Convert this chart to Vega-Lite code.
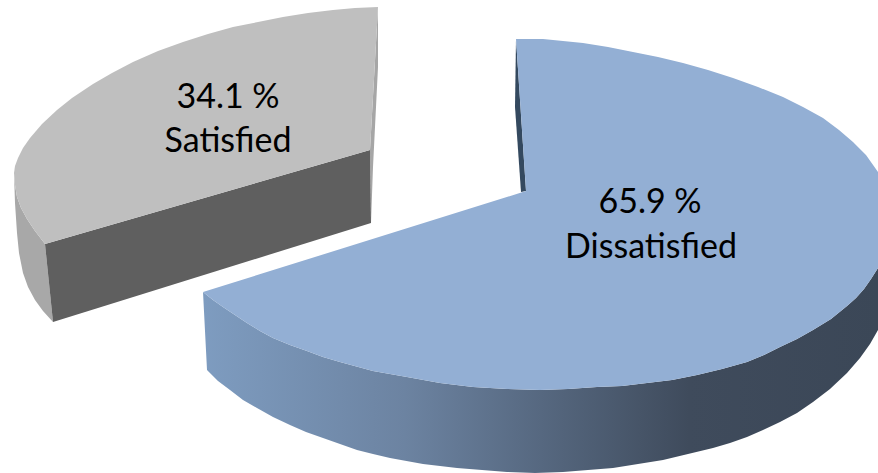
{
  "$schema": "https://vega.github.io/schema/vega-lite/v6.json",
  "width": 878,
  "height": 473,
  "autosize": {"type": "fit", "contains": "padding"},
  "padding": 0,
  "background": "#ffffff",
  "view": {"stroke": null},
  "datasets": {
    "outline": [
      {"part":"satisfied_outer","seq":1,"x":14,"y":173},{"part":"satisfied_outer","seq":2,"x":15,"y":185},{"part":"satisfied_outer","seq":3,"x":17,"y":197},{"part":"satisfied_outer","seq":4,"x":21,"y":208},{"part":"satisfied_outer","seq":5,"x":27,"y":219},{"part":"satisfied_outer","seq":6,"x":35,"y":231},{"part":"satisfied_outer","seq":7,"x":45,"y":244},{"part":"satisfied_outer","seq":8,"x":53,"y":322},{"part":"satisfied_outer","seq":9,"x":43,"y":311},{"part":"satisfied_outer","seq":10,"x":35,"y":300},{"part":"satisfied_outer","seq":11,"x":28,"y":287},{"part":"satisfied_outer","seq":12,"x":23,"y":273},{"part":"satisfied_outer","seq":13,"x":19,"y":253},{"part":"satisfied_outer","seq":14,"x":17,"y":233},{"part":"satisfied_outer","seq":15,"x":15,"y":203},
      {"part":"satisfied_inner","seq":1,"x":378,"y":7},{"part":"satisfied_inner","seq":2,"x":370,"y":150},{"part":"satisfied_inner","seq":3,"x":371,"y":223},{"part":"satisfied_inner","seq":4,"x":373,"y":167},{"part":"satisfied_inner","seq":5,"x":378,"y":67},
      {"part":"satisfied_cut","seq":1,"x":45,"y":244},{"part":"satisfied_cut","seq":2,"x":370,"y":150},{"part":"satisfied_cut","seq":3,"x":371,"y":223},{"part":"satisfied_cut","seq":4,"x":53,"y":322},
      {"part":"satisfied_top","seq":1,"x":378,"y":7},{"part":"satisfied_top","seq":2,"x":355,"y":8},{"part":"satisfied_top","seq":3,"x":333,"y":10},{"part":"satisfied_top","seq":4,"x":308,"y":13},{"part":"satisfied_top","seq":5,"x":283,"y":17},{"part":"satisfied_top","seq":6,"x":258,"y":22},{"part":"satisfied_top","seq":7,"x":233,"y":27},{"part":"satisfied_top","seq":8,"x":208,"y":34},{"part":"satisfied_top","seq":9,"x":183,"y":42},{"part":"satisfied_top","seq":10,"x":158,"y":51},{"part":"satisfied_top","seq":11,"x":133,"y":62},{"part":"satisfied_top","seq":12,"x":112,"y":73},{"part":"satisfied_top","seq":13,"x":93,"y":84},{"part":"satisfied_top","seq":14,"x":72,"y":98},{"part":"satisfied_top","seq":15,"x":57,"y":110},{"part":"satisfied_top","seq":16,"x":42,"y":124},{"part":"satisfied_top","seq":17,"x":30,"y":138},{"part":"satisfied_top","seq":18,"x":23,"y":148},{"part":"satisfied_top","seq":19,"x":18,"y":158},{"part":"satisfied_top","seq":20,"x":15,"y":166},{"part":"satisfied_top","seq":21,"x":14,"y":173},{"part":"satisfied_top","seq":22,"x":15,"y":185},{"part":"satisfied_top","seq":23,"x":17,"y":197},{"part":"satisfied_top","seq":24,"x":21,"y":208},{"part":"satisfied_top","seq":25,"x":27,"y":219},{"part":"satisfied_top","seq":26,"x":35,"y":231},{"part":"satisfied_top","seq":27,"x":45,"y":244},{"part":"satisfied_top","seq":28,"x":370,"y":150},
      {"part":"dissatisfied_inner","seq":1,"x":516,"y":39},{"part":"dissatisfied_inner","seq":2,"x":515,"y":107},{"part":"dissatisfied_inner","seq":3,"x":521,"y":192},{"part":"dissatisfied_inner","seq":4,"x":526,"y":191},
      {"part":"dissatisfied_wall","seq":1,"x":203,"y":292},{"part":"dissatisfied_wall","seq":2,"x":213,"y":300},{"part":"dissatisfied_wall","seq":3,"x":223,"y":307},{"part":"dissatisfied_wall","seq":4,"x":235,"y":315},{"part":"dissatisfied_wall","seq":5,"x":247,"y":323},{"part":"dissatisfied_wall","seq":6,"x":260,"y":331},{"part":"dissatisfied_wall","seq":7,"x":273,"y":338},{"part":"dissatisfied_wall","seq":8,"x":290,"y":345},{"part":"dissatisfied_wall","seq":9,"x":307,"y":351},{"part":"dissatisfied_wall","seq":10,"x":323,"y":357},{"part":"dissatisfied_wall","seq":11,"x":340,"y":362},{"part":"dissatisfied_wall","seq":12,"x":373,"y":371},{"part":"dissatisfied_wall","seq":13,"x":407,"y":377},{"part":"dissatisfied_wall","seq":14,"x":440,"y":383},{"part":"dissatisfied_wall","seq":15,"x":473,"y":387},{"part":"dissatisfied_wall","seq":16,"x":507,"y":389},{"part":"dissatisfied_wall","seq":17,"x":540,"y":390},{"part":"dissatisfied_wall","seq":18,"x":568,"y":389},{"part":"dissatisfied_wall","seq":19,"x":597,"y":387},{"part":"dissatisfied_wall","seq":20,"x":622,"y":386},{"part":"dissatisfied_wall","seq":21,"x":647,"y":383},{"part":"dissatisfied_wall","seq":22,"x":672,"y":380},{"part":"dissatisfied_wall","seq":23,"x":697,"y":375},{"part":"dissatisfied_wall","seq":24,"x":722,"y":369},{"part":"dissatisfied_wall","seq":25,"x":747,"y":362},{"part":"dissatisfied_wall","seq":26,"x":764,"y":355},{"part":"dissatisfied_wall","seq":27,"x":780,"y":347},{"part":"dissatisfied_wall","seq":28,"x":797,"y":339},{"part":"dissatisfied_wall","seq":29,"x":813,"y":330},{"part":"dissatisfied_wall","seq":30,"x":831,"y":319},{"part":"dissatisfied_wall","seq":31,"x":847,"y":306},{"part":"dissatisfied_wall","seq":32,"x":856,"y":298},{"part":"dissatisfied_wall","seq":33,"x":864,"y":289},{"part":"dissatisfied_wall","seq":34,"x":871,"y":279},{"part":"dissatisfied_wall","seq":35,"x":878,"y":268},{"part":"dissatisfied_wall","seq":36,"x":878,"y":330},{"part":"dissatisfied_wall","seq":37,"x":870,"y":344},{"part":"dissatisfied_wall","seq":38,"x":860,"y":358},{"part":"dissatisfied_wall","seq":39,"x":847,"y":373},{"part":"dissatisfied_wall","seq":40,"x":830,"y":389},{"part":"dissatisfied_wall","seq":41,"x":813,"y":402},{"part":"dissatisfied_wall","seq":42,"x":797,"y":413},{"part":"dissatisfied_wall","seq":43,"x":780,"y":422},{"part":"dissatisfied_wall","seq":44,"x":763,"y":430},{"part":"dissatisfied_wall","seq":45,"x":747,"y":437},{"part":"dissatisfied_wall","seq":46,"x":730,"y":443},{"part":"dissatisfied_wall","seq":47,"x":713,"y":448},{"part":"dissatisfied_wall","seq":48,"x":688,"y":454},{"part":"dissatisfied_wall","seq":49,"x":663,"y":460},{"part":"dissatisfied_wall","seq":50,"x":638,"y":464},{"part":"dissatisfied_wall","seq":51,"x":613,"y":468},{"part":"dissatisfied_wall","seq":52,"x":588,"y":470},{"part":"dissatisfied_wall","seq":53,"x":563,"y":472},{"part":"dissatisfied_wall","seq":54,"x":535,"y":473},{"part":"dissatisfied_wall","seq":55,"x":507,"y":472},{"part":"dissatisfied_wall","seq":56,"x":482,"y":470},{"part":"dissatisfied_wall","seq":57,"x":457,"y":468},{"part":"dissatisfied_wall","seq":58,"x":423,"y":464},{"part":"dissatisfied_wall","seq":59,"x":390,"y":458},{"part":"dissatisfied_wall","seq":60,"x":373,"y":454},{"part":"dissatisfied_wall","seq":61,"x":357,"y":450},{"part":"dissatisfied_wall","seq":62,"x":340,"y":444},{"part":"dissatisfied_wall","seq":63,"x":323,"y":438},{"part":"dissatisfied_wall","seq":64,"x":306,"y":432},{"part":"dissatisfied_wall","seq":65,"x":290,"y":425},{"part":"dissatisfied_wall","seq":66,"x":273,"y":417},{"part":"dissatisfied_wall","seq":67,"x":257,"y":408},{"part":"dissatisfied_wall","seq":68,"x":243,"y":400},{"part":"dissatisfied_wall","seq":69,"x":230,"y":390},{"part":"dissatisfied_wall","seq":70,"x":218,"y":381},{"part":"dissatisfied_wall","seq":71,"x":207,"y":370},
      {"part":"dissatisfied_top","seq":1,"x":516,"y":39},{"part":"dissatisfied_top","seq":2,"x":543,"y":39},{"part":"dissatisfied_top","seq":3,"x":563,"y":41},{"part":"dissatisfied_top","seq":4,"x":583,"y":43},{"part":"dissatisfied_top","seq":5,"x":608,"y":47},{"part":"dissatisfied_top","seq":6,"x":633,"y":52},{"part":"dissatisfied_top","seq":7,"x":658,"y":57},{"part":"dissatisfied_top","seq":8,"x":683,"y":63},{"part":"dissatisfied_top","seq":9,"x":708,"y":70},{"part":"dissatisfied_top","seq":10,"x":733,"y":78},{"part":"dissatisfied_top","seq":11,"x":758,"y":87},{"part":"dissatisfied_top","seq":12,"x":783,"y":97},{"part":"dissatisfied_top","seq":13,"x":803,"y":107},{"part":"dissatisfied_top","seq":14,"x":823,"y":118},{"part":"dissatisfied_top","seq":15,"x":839,"y":130},{"part":"dissatisfied_top","seq":16,"x":853,"y":142},{"part":"dissatisfied_top","seq":17,"x":866,"y":155},{"part":"dissatisfied_top","seq":18,"x":878,"y":172},{"part":"dissatisfied_top","seq":19,"x":878,"y":268},{"part":"dissatisfied_top","seq":20,"x":871,"y":279},{"part":"dissatisfied_top","seq":21,"x":864,"y":289},{"part":"dissatisfied_top","seq":22,"x":856,"y":298},{"part":"dissatisfied_top","seq":23,"x":847,"y":306},{"part":"dissatisfied_top","seq":24,"x":831,"y":319},{"part":"dissatisfied_top","seq":25,"x":813,"y":330},{"part":"dissatisfied_top","seq":26,"x":797,"y":339},{"part":"dissatisfied_top","seq":27,"x":780,"y":347},{"part":"dissatisfied_top","seq":28,"x":764,"y":355},{"part":"dissatisfied_top","seq":29,"x":747,"y":362},{"part":"dissatisfied_top","seq":30,"x":722,"y":369},{"part":"dissatisfied_top","seq":31,"x":697,"y":375},{"part":"dissatisfied_top","seq":32,"x":672,"y":380},{"part":"dissatisfied_top","seq":33,"x":647,"y":383},{"part":"dissatisfied_top","seq":34,"x":622,"y":386},{"part":"dissatisfied_top","seq":35,"x":597,"y":387},{"part":"dissatisfied_top","seq":36,"x":568,"y":389},{"part":"dissatisfied_top","seq":37,"x":540,"y":390},{"part":"dissatisfied_top","seq":38,"x":507,"y":389},{"part":"dissatisfied_top","seq":39,"x":473,"y":387},{"part":"dissatisfied_top","seq":40,"x":440,"y":383},{"part":"dissatisfied_top","seq":41,"x":407,"y":377},{"part":"dissatisfied_top","seq":42,"x":373,"y":371},{"part":"dissatisfied_top","seq":43,"x":340,"y":362},{"part":"dissatisfied_top","seq":44,"x":323,"y":357},{"part":"dissatisfied_top","seq":45,"x":307,"y":351},{"part":"dissatisfied_top","seq":46,"x":290,"y":345},{"part":"dissatisfied_top","seq":47,"x":273,"y":338},{"part":"dissatisfied_top","seq":48,"x":260,"y":331},{"part":"dissatisfied_top","seq":49,"x":247,"y":323},{"part":"dissatisfied_top","seq":50,"x":235,"y":315},{"part":"dissatisfied_top","seq":51,"x":223,"y":307},{"part":"dissatisfied_top","seq":52,"x":213,"y":300},{"part":"dissatisfied_top","seq":53,"x":203,"y":292},{"part":"dissatisfied_top","seq":54,"x":526,"y":191}
    ],
    "labels": [
      {"label":"34.1 %","x":228,"y":98},
      {"label":"Satisfied","x":228,"y":142},
      {"label":"65.9 %","x":650,"y":203},
      {"label":"Dissatisfied","x":651,"y":248}
    ]
  },
  "encoding": {
    "x": {"field":"x","type":"quantitative","scale":{"domain":[0,878],"nice":false,"zero":false},"axis":null},
    "y": {"field":"y","type":"quantitative","scale":{"domain":[473,0],"nice":false,"zero":false},"axis":null}
  },
  "layer": [
    {"data":{"name":"outline"},"transform":[{"filter":"datum.part === 'satisfied_outer'"}],"mark":{"type":"line","filled":true,"fill":"#a8a8a8","stroke":null},"encoding":{"order":{"field":"seq"}}},
    {"data":{"name":"outline"},"transform":[{"filter":"datum.part === 'satisfied_inner'"}],"mark":{"type":"line","filled":true,"fill":"#a6a6a6","stroke":null},"encoding":{"order":{"field":"seq"}}},
    {"data":{"name":"outline"},"transform":[{"filter":"datum.part === 'satisfied_cut'"}],"mark":{"type":"line","filled":true,"fill":"#5f5f5f","stroke":null},"encoding":{"order":{"field":"seq"}}},
    {"data":{"name":"outline"},"transform":[{"filter":"datum.part === 'satisfied_top'"}],"mark":{"type":"line","filled":true,"fill":"#bfbfbf","stroke":null},"encoding":{"order":{"field":"seq"}}},
    {"data":{"name":"outline"},"transform":[{"filter":"datum.part === 'dissatisfied_inner'"}],"mark":{"type":"line","filled":true,"fill":"#34495f","stroke":null},"encoding":{"order":{"field":"seq"}}},
    {"data":{"name":"outline"},"transform":[{"filter":"datum.part === 'dissatisfied_wall'"}],"mark":{"type":"line","filled":true,"stroke":null,"fill":{"gradient":"linear","x1":0,"y1":0,"x2":1,"y2":0,"stops":[{"offset":0,"color":"#7e9cc0"},{"offset":0.3,"color":"#6c83a1"},{"offset":0.5,"color":"#566880"},{"offset":0.72,"color":"#3f4b5c"},{"offset":1,"color":"#3b4757"}]}},"encoding":{"order":{"field":"seq"}}},
    {"data":{"name":"outline"},"transform":[{"filter":"datum.part === 'dissatisfied_top'"}],"mark":{"type":"line","filled":true,"fill":"#93afd4","stroke":null},"encoding":{"order":{"field":"seq"}}},
    {"data":{"name":"labels"},"mark":{"type":"text","font":"Lato","fontSize":34,"color":"#000000","align":"center","baseline":"middle"},"encoding":{"text":{"field":"label","type":"nominal"}}}
  ]
}
